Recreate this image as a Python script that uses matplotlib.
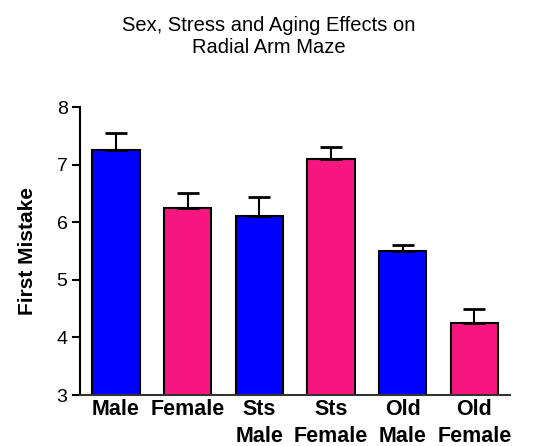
import matplotlib
matplotlib.use('Agg')
import matplotlib.pyplot as plt
import numpy as np

plt.rcParams['font.family'] = ['Liberation Sans', 'DejaVu Sans']

groups = ['Male', 'Female', 'Sts\nMale', 'Sts\nFemale', 'Old\nMale', 'Old\nFemale']
means = [7.25, 6.25, 6.1, 7.1, 5.5, 4.25]
sem = [0.3, 0.25, 0.33, 0.2, 0.1, 0.25]
colors = ['#0000FF', '#F5177F', '#0000FF', '#F5177F', '#0000FF', '#F5177F']

fig = plt.figure(figsize=(5.37, 4.46), dpi=100)
ax = fig.add_axes([0.149, 0.1143, 0.801, 0.6457])

x = np.arange(len(groups))
# one-sided error bars (upper only)
yerr = [np.zeros(len(sem)), sem]
ax.bar(x, means, width=0.66, color=colors, edgecolor='black', linewidth=1.5,
       yerr=yerr, capsize=8, error_kw=dict(elinewidth=1.5, capthick=2, ecolor='black'),
       zorder=2)

ax.set_xlim(-0.5, 5.5)
ax.set_ylim(3, 8)
ax.set_yticks([3, 4, 5, 6, 7, 8])
ax.set_xticks(x)
ax.set_xticklabels(groups, fontsize=15.5, fontweight='bold', linespacing=1.35, va='top')
ax.tick_params(axis='x', length=0, pad=3)
ax.tick_params(axis='y', length=6, width=1.5, labelsize=14, pad=3)

for side in ['top', 'right']:
    ax.spines[side].set_visible(False)
ax.spines['left'].set_linewidth(1.5)
ax.spines['bottom'].set_linewidth(1.5)
ax.spines['bottom'].set_color('#333333')

ax.set_ylabel('First Mistake', fontsize=15, fontweight='bold', labelpad=14)
fig.text(0.5, 0.965, 'Sex, Stress and Aging Effects on\nRadial Arm Maze',
         ha='center', va='top', fontsize=14.5, linespacing=1.2)

fig.savefig('out.png', dpi=100)
